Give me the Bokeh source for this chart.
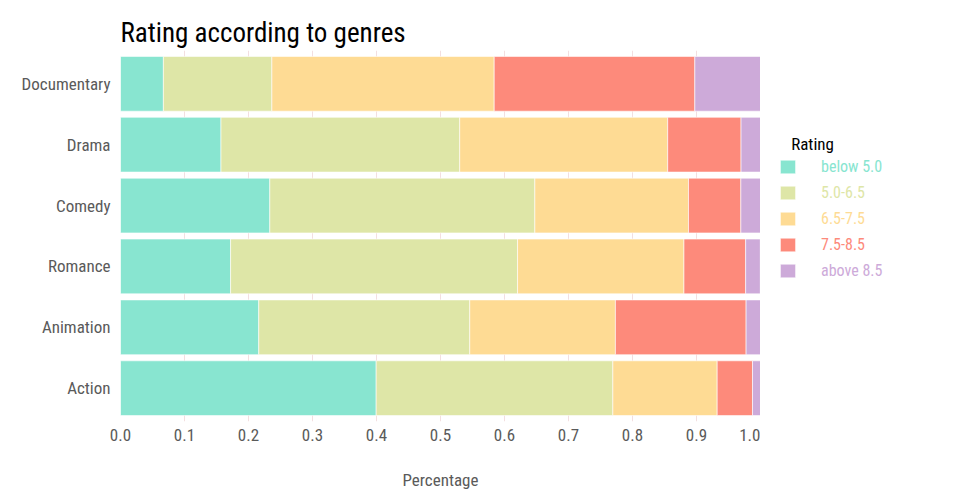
from bokeh.plotting import figure
from bokeh.layouts import row
from bokeh.models import (Legend, LegendItem, Label, FactorRange, ColumnDataSource,
                          PrintfTickFormatter, Range1d)
from bokeh.embed import file_html
from bokeh.resources import INLINE

genres = ["Documentary", "Drama", "Comedy", "Romance", "Animation", "Action"]
rating_classes = ["below 5.0", "5.0-6.5", "6.5-7.5", "7.5-8.5", "above 8.5"]
below_5_0 = [0.067, 0.157, 0.2333, 0.172, 0.216, 0.3995]
r5_0_6_5 = [0.1695, 0.373, 0.4141, 0.4484, 0.3297, 0.3698]
r6_5_7_5 = [0.3474, 0.325, 0.2401, 0.260, 0.2276, 0.163]
r7_5_8_5 = [0.3135, 0.1146, 0.0818, 0.0964, 0.2042, 0.0552]
above_8_5 = [0.1026, 0.0307, 0.0307, 0.0229, 0.0229, 0.0125]
colors = ["#88e5d0", "#dee6a7", "#fedb94", "#fd8a7b", "#cdaad9"]
x_ticks = [0.0, 0.1, 0.2, 0.3, 0.4, 0.5, 0.6, 0.7, 0.8, 0.9, 1.0]

FONT = "Roboto Condensed"
GRAY = "#5a5a5a"
keys = ["c0", "c1", "c2", "c3", "c4"]
source = ColumnDataSource(dict(genre=genres, c0=below_5_0, c1=r5_0_6_5, c2=r6_5_7_5,
                               c3=r7_5_8_5, c4=above_8_5))

H = 492
LEFT, TOP, BOTTOM = 120, 50, 70
frame_bottom = H - BOTTOM

p = figure(width=760, height=H, output_backend="svg", toolbar_location=None,
           x_range=(0, 1),
           y_range=FactorRange(factors=list(reversed(genres)), range_padding=0.0157),
           min_border_left=LEFT, min_border_right=0, min_border_top=TOP,
           min_border_bottom=BOTTOM,
           title="Rating according to genres", x_axis_label="Percentage")
p.outline_line_color = None

p.hbar_stack(keys, y="genre", height=0.9, color=colors, source=source,
             line_color="white", line_width=0.6)

p.title.text_font = FONT
p.title.text_font_size = "27px"
p.title.text_font_style = "normal"
p.title.text_color = "#000000"
p.title.offset = 0
p.title.standoff = 3

p.xaxis.ticker = x_ticks
p.xaxis.formatter = PrintfTickFormatter(format="%.1f")
p.xgrid.ticker = x_ticks
p.xgrid.grid_line_color = "#f3dfe0"
p.xgrid.grid_line_width = 1
p.ygrid.grid_line_color = None

for ax in (p.xaxis[0], p.yaxis[0]):
    ax.axis_line_color = None
    ax.major_tick_line_color = None
    ax.minor_tick_line_color = None
    ax.major_label_text_font = FONT
    ax.major_label_text_font_size = "17px"
    ax.major_label_text_color = GRAY
    ax.axis_label_text_font = FONT
    ax.axis_label_text_font_size = "17px"
    ax.axis_label_text_font_style = "normal"
    ax.axis_label_text_color = GRAY
p.xaxis.major_label_standoff = 1
p.xaxis.axis_label_standoff = 26
p.yaxis.major_label_standoff = 4

# legend panel (its frame is aligned with the chart frame by the row layout)
lf = figure(width=180, height=H, output_backend="svg", toolbar_location=None,
            x_range=Range1d(0, 1), y_range=Range1d(0, 1),
            x_axis_type=None, y_axis_type=None,
            min_border_left=0, min_border_right=0, min_border_top=TOP,
            min_border_bottom=BOTTOM)
lf.outline_line_color = None
lf.xgrid.visible = False
lf.ygrid.visible = False

for i, (cls, col) in enumerate(zip(rating_classes, colors)):
    # zero-size swatch renderer: only its legend glyph is visible
    swatch = lf.hbar(y=[0], left=[0], right=[0], height=0, color=col,
                     line_color="white", line_width=0.6)
    glyph_center = 168.5 + 26 * i
    lg = Legend(items=[LegendItem(label=cls, renderers=[swatch])],
                location=(18, frame_bottom - (glyph_center + 8.5)),
                orientation="vertical", padding=0, margin=0, spacing=0,
                glyph_width=19, glyph_height=17, label_height=17, label_standoff=24,
                label_text_font=FONT, label_text_font_size="16px", label_text_color=col,
                border_line_color=None, background_fill_alpha=0)
    lf.add_layout(lg, "center")

lf.add_layout(Label(x=30.7, y=frame_bottom - 144, x_units="screen", y_units="screen",
                    text="Rating", text_font=FONT, text_font_size="17px",
                    text_color="#000000", text_baseline="alphabetic"))

layout = row(p, lf)
open("out.html", "w").write(file_html(layout, INLINE))
